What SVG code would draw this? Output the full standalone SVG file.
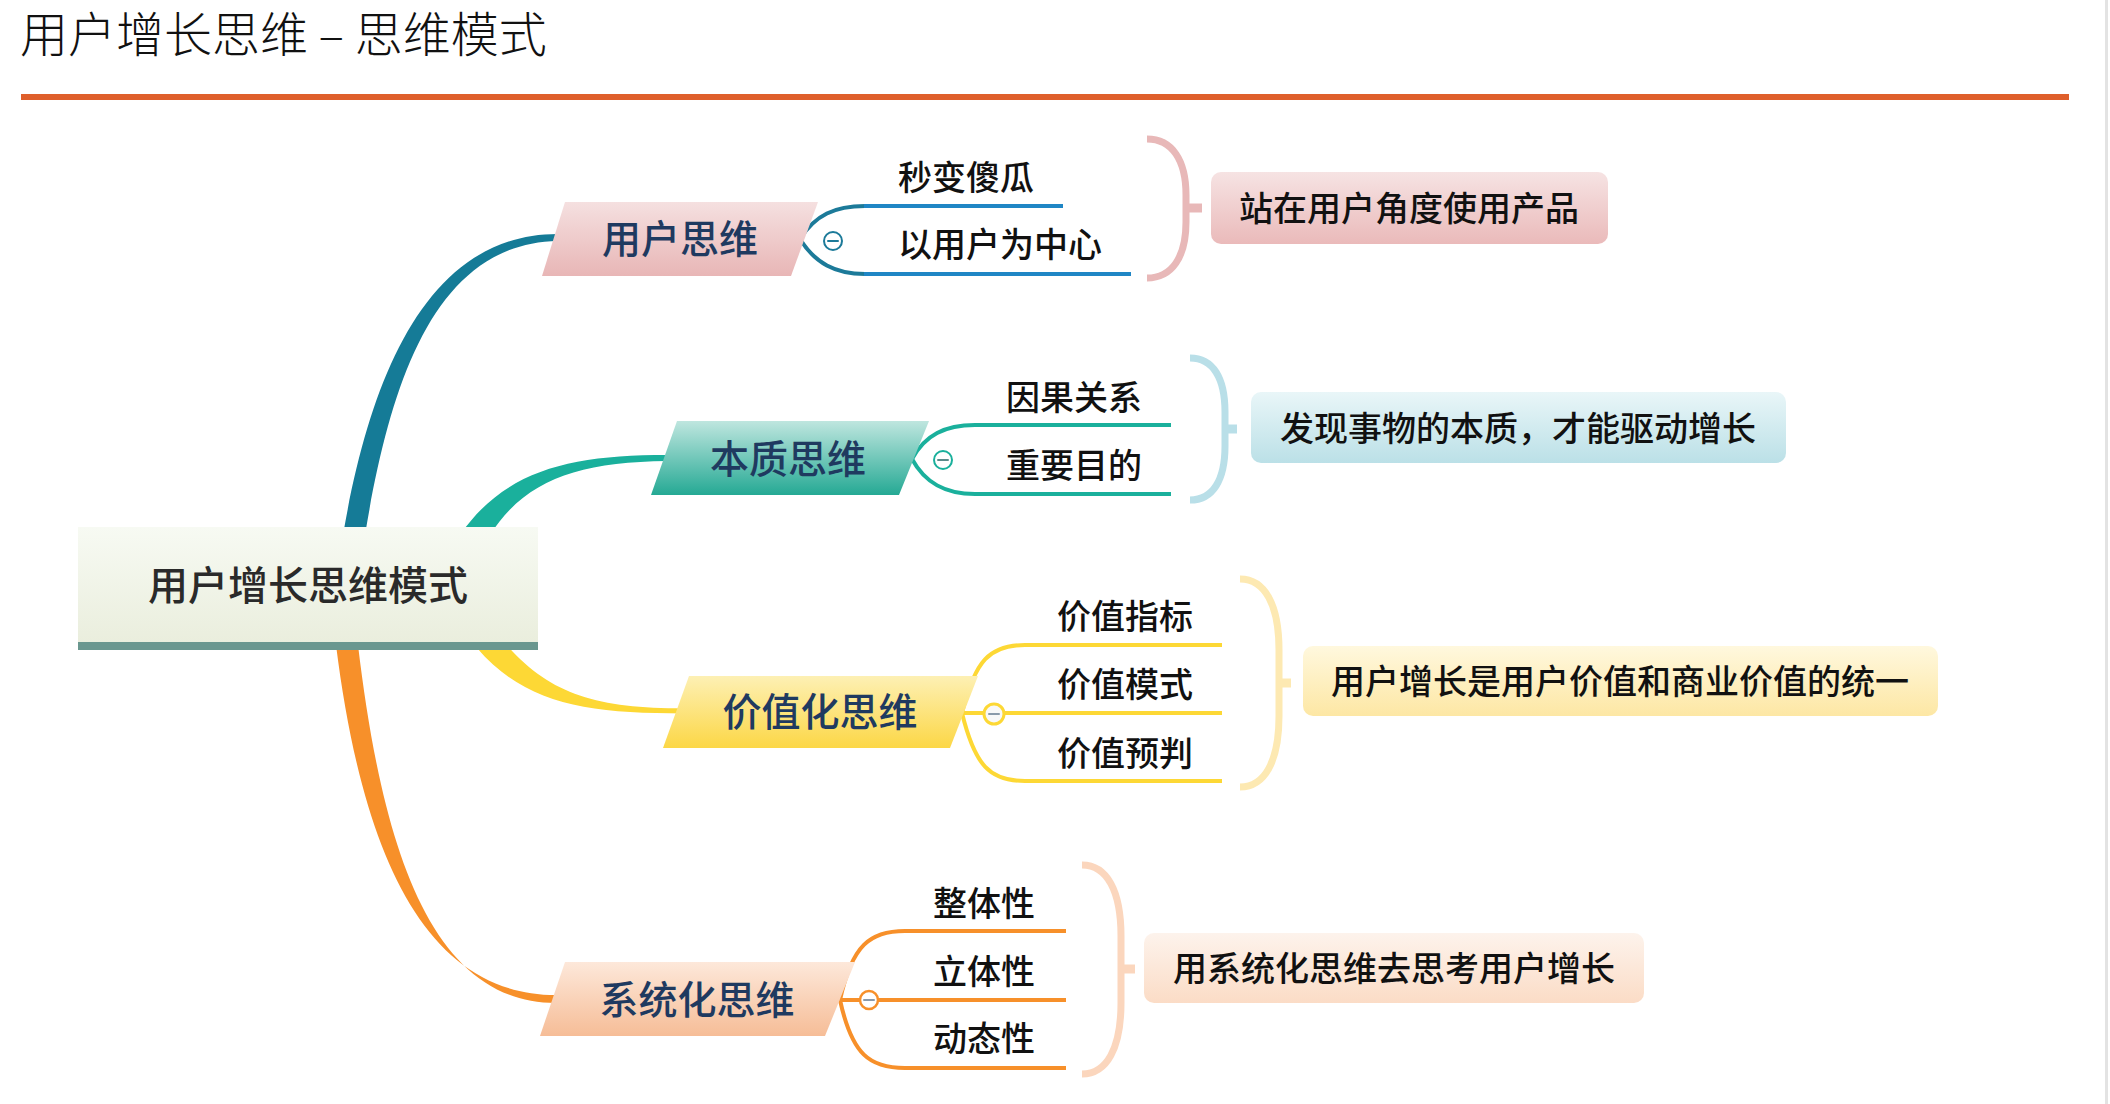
<svg xmlns="http://www.w3.org/2000/svg" width="2110" height="1104" viewBox="0 0 2110 1104">
<defs>
<linearGradient id="gCenter" x1="0" y1="0" x2="0" y2="1"><stop offset="0" stop-color="#f7faf3"/><stop offset="1" stop-color="#eaeedd"/></linearGradient>
<linearGradient id="gPink" x1="0" y1="0" x2="0" y2="1"><stop offset="0" stop-color="#f5e0e0"/><stop offset="1" stop-color="#e8b6b6"/></linearGradient>
<linearGradient id="gTeal" x1="0" y1="0" x2="0" y2="1"><stop offset="0" stop-color="#bfe6df"/><stop offset="1" stop-color="#25a994"/></linearGradient>
<linearGradient id="gYellow" x1="0" y1="0" x2="0" y2="1"><stop offset="0" stop-color="#fdf0b4"/><stop offset="1" stop-color="#fcd746"/></linearGradient>
<linearGradient id="gPeach" x1="0" y1="0" x2="0" y2="1"><stop offset="0" stop-color="#fde8da"/><stop offset="1" stop-color="#f6bd97"/></linearGradient>
<linearGradient id="sPink" x1="0" y1="0" x2="0" y2="1"><stop offset="0" stop-color="#f6e3e3"/><stop offset="1" stop-color="#eababa"/></linearGradient>
<linearGradient id="sBlue" x1="0" y1="0" x2="0" y2="1"><stop offset="0" stop-color="#e9f6f8"/><stop offset="1" stop-color="#bbe0e7"/></linearGradient>
<linearGradient id="sYellow" x1="0" y1="0" x2="0" y2="1"><stop offset="0" stop-color="#fff8de"/><stop offset="1" stop-color="#fde7a4"/></linearGradient>
<linearGradient id="sPeach" x1="0" y1="0" x2="0" y2="1"><stop offset="0" stop-color="#fdf3ec"/><stop offset="1" stop-color="#fbdcc6"/></linearGradient>
</defs>
<style>
text{font-family:"Noto Sans CJK SC","Noto Sans",sans-serif}
.title{font-size:48px;font-weight:300;fill:#111}
.center{font-size:40px;font-weight:500;fill:#2a2a2a;text-anchor:middle}
.main{font-size:39px;font-weight:500;fill:#1f3a60;text-anchor:middle}
.sub{font-size:34px;font-weight:500;fill:#111}
.sum{font-size:34px;font-weight:500;fill:#111;text-anchor:middle}
.fork{fill:none;stroke-width:4;stroke-linecap:butt}
.brace{fill:none;stroke-width:7}
.tick{stroke-width:9}
.minus{stroke-width:2;stroke-linecap:round}
</style>
<rect x="0" y="0" width="2110" height="1104" fill="#ffffff"/>
<text class="title" x="20" y="52">用户增长思维 – 思维模式</text>
<rect x="21" y="94" width="2048" height="6" fill="#df5f2b"/>
<rect x="2105" y="0" width="3" height="1104" fill="#e3e3e3"/>

<g id="connectors">
  <path d="M343,535 C370,378 426,234 558,234 L558,241 C434,243 390,384 365,535 Z" fill="#157b97"/>
  <path d="M460,535 C505,470 570,455 667,455 L667,461 C578,462 525,480 490,535 Z" fill="#1ab09c"/>
  <path d="M499,636 C545,693 592,708.5 684,708.5 L684,713.5 C588,713.5 526,705 477,648 Z" fill="#fdd835"/>
  <path d="M336,645 C362,852 424,995 556,995 L556,1003 C430,1003 382,846 358,645 Z" fill="#f7902a"/>

  <path class="fork" d="M800,239 C815,215 835,206 865,206" stroke="#1c7a99"/>
  <path class="fork" d="M800,239 C815,263 835,274 865,274" stroke="#1c7a99"/>
  <path class="fork" d="M864,206 L1063,206 M864,274 L1131,274" stroke="#1f86c5"/>

  <path class="fork" d="M912,459 C925,435 945,425 975,425 L1171,425" stroke="#1ab09c"/>
  <path class="fork" d="M912,459 C925,483 945,494 975,494 L1171,494" stroke="#1ab09c"/>

  <path class="fork" d="M962,713 C975,660 990,645 1025,645 L1222,645" stroke="#fdd835"/>
  <path class="fork" d="M962,713 L1222,713" stroke="#fdd835"/>
  <path class="fork" d="M962,713 C975,766 990,781 1025,781 L1222,781" stroke="#fdd835"/>

  <path class="fork" d="M840,1000 C852,945 870,931 905,931 L1066,931" stroke="#f7902a"/>
  <path class="fork" d="M840,1000 L1066,1000" stroke="#f7902a"/>
  <path class="fork" d="M840,1000 C852,1055 870,1068 905,1068 L1066,1068" stroke="#f7902a"/>

  <path class="brace" d="M1147,139 C1172,139 1186,160 1186,195 L1186,222 C1186,257 1172,278 1147,278" stroke="#e8b8b8"/>
  <line class="tick" x1="1186" y1="208" x2="1202" y2="208" stroke="#e8b8b8"/>
  <path class="brace" d="M1190,358 C1213,358 1225,378 1225,412 L1225,446 C1225,480 1213,500 1190,500" stroke="#b9dfe8"/>
  <line class="tick" x1="1225" y1="429" x2="1237" y2="429" stroke="#b9dfe8"/>
  <path class="brace" d="M1240,579 C1265,579 1279,605 1279,650 L1279,716 C1279,761 1265,787 1240,787" stroke="#fde9b2"/>
  <line class="tick" x1="1279" y1="683" x2="1291" y2="683" stroke="#fde9b2"/>
  <path class="brace" d="M1082,865 C1107,865 1121,891 1121,936 L1121,1003 C1121,1048 1107,1074 1082,1074" stroke="#fbd6bd"/>
  <line class="tick" x1="1121" y1="969" x2="1135" y2="969" stroke="#fbd6bd"/>
</g>

<g id="root">
  <rect x="78" y="527" width="460" height="116" fill="url(#gCenter)"/>
  <rect x="78" y="642" width="460" height="8" fill="#6a978f"/>
  <text class="center" x="308" y="600">用户增长思维模式</text>
</g>

<g id="n-user">
  <polygon points="565,202 818,202 791,276 542,276" fill="url(#gPink)"/>
  <text class="main" x="680" y="253">用户思维</text>
</g>
<g id="n-essence">
  <polygon points="677,421 929,421 899,495 651,495" fill="url(#gTeal)"/>
  <text class="main" x="788" y="473">本质思维</text>
</g>
<g id="n-value">
  <polygon points="689,676 978,676 950,748 663,748" fill="url(#gYellow)"/>
  <text class="main" x="820" y="726">价值化思维</text>
</g>
<g id="n-system">
  <polygon points="565,962 855,962 825,1036 540,1036" fill="url(#gPeach)"/>
  <text class="main" x="697" y="1014">系统化思维</text>
</g>

<g id="toggles">
  <circle cx="833" cy="241" r="9" fill="#ffffff" stroke="#1c7a99" stroke-width="2"/>
  <line class="minus" x1="828" y1="241" x2="838" y2="241" stroke="#1c7a99"/>
  <circle cx="943" cy="460" r="9" fill="#ffffff" stroke="#1ab09c" stroke-width="2"/>
  <line class="minus" x1="938" y1="460" x2="948" y2="460" stroke="#5a8a8a"/>
  <circle cx="994" cy="714" r="10" fill="#f8f8f8" stroke="#fdd835" stroke-width="3"/>
  <line class="minus" x1="989" y1="714" x2="999" y2="714" stroke="#8a9aaa"/>
  <circle cx="869" cy="1000" r="9" fill="#ffffff" stroke="#f7902a" stroke-width="2.5"/>
  <line class="minus" x1="864" y1="1000" x2="874" y2="1000" stroke="#8a9aaa"/>
</g>

<g id="c-user-1"><text class="sub" x="898" y="190">秒变傻瓜</text></g>
<g id="c-user-2"><text class="sub" x="898" y="257">以用户为中心</text></g>
<g id="c-essence-1"><text class="sub" x="1006" y="410">因果关系</text></g>
<g id="c-essence-2"><text class="sub" x="1006" y="478">重要目的</text></g>
<g id="c-value-1"><text class="sub" x="1057" y="629">价值指标</text></g>
<g id="c-value-2"><text class="sub" x="1057" y="697">价值模式</text></g>
<g id="c-value-3"><text class="sub" x="1057" y="766">价值预判</text></g>
<g id="c-system-1"><text class="sub" x="933" y="916">整体性</text></g>
<g id="c-system-2"><text class="sub" x="933" y="984">立体性</text></g>
<g id="c-system-3"><text class="sub" x="933" y="1051">动态性</text></g>

<g id="s-user">
  <rect x="1211" y="172" width="397" height="72" rx="10" fill="url(#sPink)"/>
  <text class="sum" x="1409" y="221">站在用户角度使用产品</text>
</g>
<g id="s-essence">
  <rect x="1251" y="392" width="535" height="71" rx="10" fill="url(#sBlue)"/>
  <text class="sum" x="1518" y="441">发现事物的本质，才能驱动增长</text>
</g>
<g id="s-value">
  <rect x="1303" y="646" width="635" height="70" rx="10" fill="url(#sYellow)"/>
  <text class="sum" x="1620" y="694">用户增长是用户价值和商业价值的统一</text>
</g>
<g id="s-system">
  <rect x="1144" y="933" width="500" height="70" rx="10" fill="url(#sPeach)"/>
  <text class="sum" x="1394" y="981">用系统化思维去思考用户增长</text>
</g>
</svg>
